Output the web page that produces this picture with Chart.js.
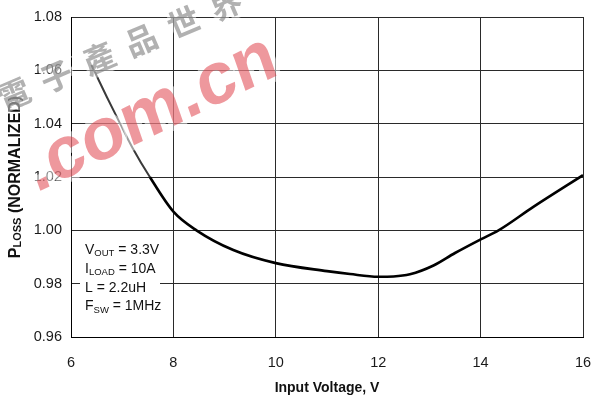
<!DOCTYPE html>
<html>
<head>
<meta charset="utf-8">
<script src="https://cdn.jsdelivr.net/npm/chart.js@4.4.1/dist/chart.umd.min.js"></script>
<style>
  html, body { margin: 0; padding: 0; background: #fff; }
  #wrap { width: 595px; height: 399px; position: relative; }
</style>
</head>
<body>
<div id="wrap"><canvas id="c" width="595" height="399"></canvas></div>
<script>
// Input voltage (V) and normalized power loss
const voltage = [6.4, 6.7, 6.96, 7.2, 7.54, 8.0, 8.45, 9.17, 10.0, 11.0, 11.45, 12.0, 12.3, 12.62, 13.08, 13.5, 14.0, 14.35, 15.03, 16.0];
const pLoss   = [1.062, 1.050, 1.040, 1.031, 1.020, 1.007, 1.000, 0.9926, 0.9877, 0.9847, 0.9836, 0.9826, 0.9827, 0.9835, 0.9868, 0.9915, 0.9966, 1.000, 1.0088, 1.0207];

// Axis ranges and tick labels
const xTicks = [6, 8, 10, 12, 14, 16];
const yTicks = ['0.96', '0.98', '1.00', '1.02', '1.04', '1.06', '1.08'];

// Operating conditions: [main text, subscript, rest]
const conditions = [
  ['V', 'OUT', ' = 3.3V'],
  ['I', 'LOAD', ' = 10A'],
  ['L = 2.2uH', '', ''],
  ['F', 'SW', ' = 1MHz']
];

const xTitle = 'Input Voltage, V';
const yTitle = ['P', 'LOSS', ' (NORMALIZED)'];
const markText = '.com.cn';
const markChars = ['電', '子', '產', '品', '世', '界'];

const FONT = '"Liberation Sans", Arial, Helvetica, sans-serif';

// Draws text made of a main part, a lowered subscript and a tail
function drawSub(ctx, x, y, parts, size, subSize, bold, subDrop) {
  const w = bold ? 'bold ' : '';
  ctx.font = w + size + 'px ' + FONT;
  ctx.fillText(parts[0], x, y);
  x += ctx.measureText(parts[0]).width;
  if (parts[1]) {
    ctx.font = w + subSize + 'px ' + FONT;
    ctx.fillText(parts[1], x, y + subDrop);
    x += ctx.measureText(parts[1]).width;
  }
  if (parts[2]) {
    ctx.font = w + size + 'px ' + FONT;
    ctx.fillText(parts[2], x, y);
    x += ctx.measureText(parts[2]).width;
  }
  return x;
}

function subWidth(ctx, parts, size, subSize, bold) {
  const w = bold ? 'bold ' : '';
  let t = 0;
  ctx.font = w + size + 'px ' + FONT;
  t += ctx.measureText(parts[0]).width + ctx.measureText(parts[2]).width;
  ctx.font = w + subSize + 'px ' + FONT;
  t += ctx.measureText(parts[1]).width;
  return t;
}

const decorations = {
  id: 'decorations',
  afterDraw(chart) {
    const ctx = chart.ctx;
    const area = chart.chartArea;
    ctx.save();
    ctx.textBaseline = 'alphabetic';
    ctx.textAlign = 'left';

    // conditions box
    ctx.fillStyle = '#fff';
    ctx.fillRect(area.left + 9, 239, 80, 76);
    ctx.fillStyle = '#111';
    const baseY = [253.5, 272.5, 291.5, 310];
    conditions.forEach((c, i) => {
      drawSub(ctx, 85, baseY[i], c, 14, 9.5, false, 2.5);
    });

    // x-axis title
    ctx.font = 'bold 14px ' + FONT;
    const xw = ctx.measureText(xTitle).width;
    ctx.fillText(xTitle, (area.left + area.right) / 2 - xw / 2, 392);

    // y-axis title (rotated)
    ctx.save();
    ctx.translate(20, 177);
    ctx.rotate(-Math.PI / 2);
    const yw = subWidth(ctx, yTitle, 16, 11, true);
    drawSub(ctx, -yw / 2, 0, yTitle, 16, 11, true, 1);
    ctx.restore();

    // watermark
    ctx.save();
    ctx.translate(36, 193);
    ctx.rotate(-26 * Math.PI / 180);
    ctx.transform(1, 0, -0.12, 1, 0, 0);
    ctx.font = 'bold 72px ' + FONT;
    ctx.lineJoin = 'round';
    ctx.strokeStyle = 'rgba(255,255,255,0.5)';
    ctx.lineWidth = 10;
    ctx.strokeText(markText, 0, 0);
    ctx.fillStyle = 'rgba(222,50,60,0.5)';
    ctx.fillText(markText, 0, 0);
    ctx.restore();

    ctx.save();
    ctx.translate(14, 94);
    ctx.rotate(-23 * Math.PI / 180);
    ctx.font = 'bold 32px "Noto Sans CJK TC", "Noto Sans CJK SC", sans-serif';
    ctx.textAlign = 'center';
    ctx.textBaseline = 'middle';
    markChars.forEach((ch, i) => {
      ctx.strokeStyle = 'rgba(255,255,255,0.45)';
      ctx.lineWidth = 6;
      ctx.strokeText(ch, i * 46, 0);
      ctx.fillStyle = 'rgba(125,125,125,0.6)';
      ctx.fillText(ch, i * 46, 0);
    });
    ctx.restore();

    ctx.restore();
  }
};

new Chart(document.getElementById('c'), {
  type: 'scatter',
  data: {
    datasets: [{
      data: voltage.map((v, i) => ({ x: v, y: pLoss[i] })),
      showLine: true,
      borderColor: '#000',
      borderWidth: 2.6,
      pointRadius: 0,
      cubicInterpolationMode: 'monotone',
      fill: false,
      // the steep low-voltage stretch is drawn lighter and thinner
      segment: {
        borderColor: c => (c.p0.parsed.x < 7.3 ? '#3a3a3a' : undefined),
        borderWidth: c => (c.p0.parsed.x < 7.3 ? 2 : undefined)
      }
    }]
  },
  options: {
    responsive: false,
    animation: false,
    events: [],
    layout: { padding: { left: 0, top: 17, right: 12, bottom: 0 } },
    plugins: { legend: { display: false }, tooltip: { enabled: false } },
    scales: {
      x: {
        type: 'linear',
        min: xTicks[0],
        max: xTicks[xTicks.length - 1],
        afterBuildTicks(s) { s.ticks = xTicks.map(v => ({ value: v })); },
        afterFit(s) { s.height = 62; s.paddingLeft = 0; s.paddingRight = 0; },
        grid: { color: '#2a2a2a', lineWidth: 1, drawTicks: false },
        border: { color: '#000', width: 1 },
        ticks: {
          padding: 17,
          color: '#1a1a1a',
          font: { family: FONT, size: 14.5 },
          maxRotation: 0,
          callback: v => String(v)
        }
      },
      y: {
        type: 'linear',
        min: Number(yTicks[0]),
        max: Number(yTicks[yTicks.length - 1]),
        afterBuildTicks(s) { s.ticks = yTicks.map(v => ({ value: Number(v) })); },
        afterFit(s) { s.width = 71; s.paddingTop = 0; s.paddingBottom = 0; },
        grid: { color: '#2a2a2a', lineWidth: 1, drawTicks: false },
        border: { color: '#000', width: 1 },
        ticks: {
          padding: 9,
          color: '#1a1a1a',
          font: { family: FONT, size: 14.5 },
          callback: v => Number(v).toFixed(2)
        }
      }
    }
  },
  plugins: [decorations]
});
</script>
</body>
</html>
